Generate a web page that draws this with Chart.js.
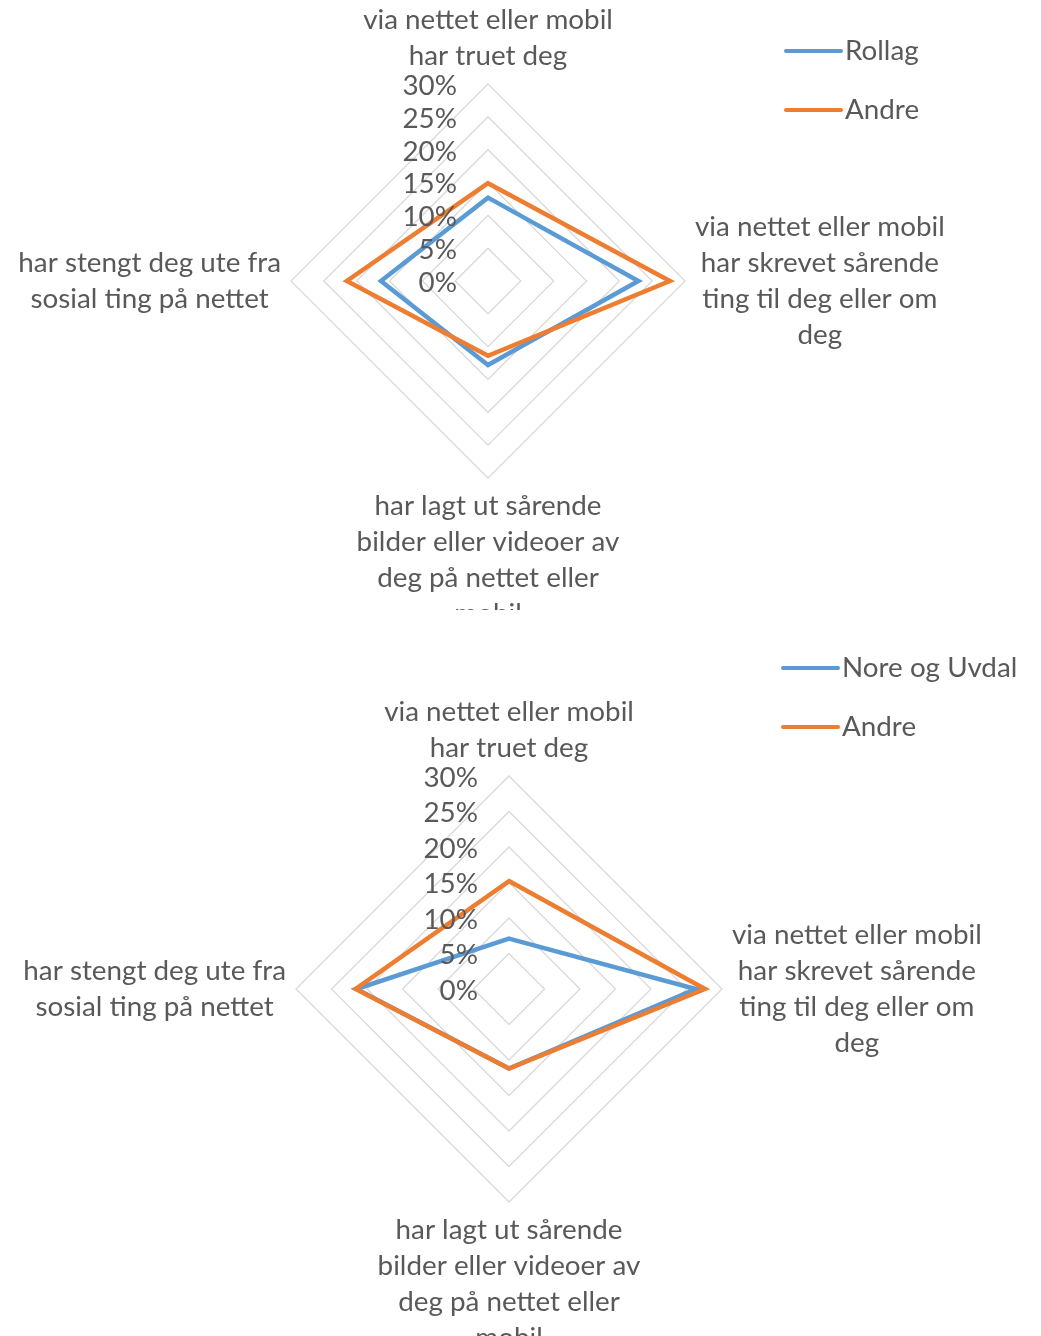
<!DOCTYPE html>
<html>
<head>
<meta charset="utf-8">
<script src="https://cdn.jsdelivr.net/npm/chart.js@4.4.1/dist/chart.umd.min.js"></script>
<style>
  html, body { margin: 0; padding: 0; background: #fff; }
  canvas { display: block; }
</style>
</head>
<body>
<canvas id="rollag" width="1041" height="610"></canvas>
<canvas id="nore" width="1041" height="726"></canvas>
<script>
// Axis categories (line breaks as in the original)
const categories = [
  ["via nettet eller mobil", "har truet deg"],
  ["via nettet eller mobil", "har skrevet sårende", "ting til deg eller om", "deg"],
  ["har lagt ut sårende", "bilder eller videoer av", "deg på nettet eller", "mobil"],
  ["har stengt deg ute fra", "sosial ting på nettet"]
];
const tickValues = [0, 5, 10, 15, 20, 25, 30];

// Values in percent
const rollag = [12.7, 22.9, 12.8, 16.3];
const andreRollag = [14.9, 27.7, 11.4, 21.5];
const noreUvdal = [7.1, 26.3, 11.2, 21.5];
const andreNore = [15.2, 27.6, 11.2, 21.6];

const BLUE = "#5B9BD5";
const ORANGE = "#ED7D31";
const TEXT = "#595959";
const FONT = "27.8px Lato, 'Liberation Sans', sans-serif";
const LINE_H = 36;

// Ticks, category labels and legend drawn Excel-style
const excelText = {
  id: 'excelText',
  afterDraw(chart, args, opts) {
    const ctx = chart.ctx;
    const r = chart.scales.r;
    ctx.save();
    ctx.font = FONT;
    ctx.fillStyle = TEXT;

    // tick labels, to the left of the first axis
    ctx.textAlign = 'right';
    ctx.textBaseline = 'middle';
    r.ticks.forEach(t => {
      const d = r.getDistanceFromCenterForValue(t.value);
      ctx.fillText(t.value + '%', r.xCenter - 31, r.yCenter - d + 2);
    });

    // category labels
    ctx.textAlign = 'center';
    chart.data.labels.forEach((lines, i) => {
      const p = r.getPointPosition(i, r.drawingArea + 10);
      const w = Math.max(...lines.map(s => ctx.measureText(s).width));
      const h = lines.length * LINE_H;
      const dx = p.x - r.xCenter, dy = p.y - r.yCenter;
      let cx = p.x, top = p.y - h / 2;
      if (dx > 1) cx = p.x + w / 2;
      else if (dx < -1) cx = p.x - w / 2;
      else top = dy < 0 ? p.y - h : p.y;
      lines.forEach((s, k) => ctx.fillText(s, cx, top + LINE_H * (k + 0.5)));
    });

    // legend
    ctx.textAlign = 'left';
    ctx.lineWidth = 4;
    ctx.lineCap = 'round';
    chart.data.datasets.forEach((ds, i) => {
      const y = opts.y + i * opts.gap;
      ctx.strokeStyle = ds.borderColor;
      ctx.beginPath();
      ctx.moveTo(opts.x, y);
      ctx.lineTo(opts.x + 55, y);
      ctx.stroke();
      ctx.fillText(ds.label, opts.x + 59, y);
    });
    ctx.restore();
  }
};

function radar(id, name, own, others, padding, legendPos) {
  new Chart(document.getElementById(id), {
    type: 'radar',
    data: {
      labels: categories,
      datasets: [{
        label: name,
        data: own,
        borderColor: BLUE,
        borderWidth: 4.5,
        pointRadius: 0,
        fill: false,
        order: 1
      }, {
        label: "Andre",
        data: others,
        borderColor: ORANGE,
        borderWidth: 4.5,
        pointRadius: 0,
        fill: false,
        order: 0
      }]
    },
    options: {
      responsive: false,
      animation: false,
      events: [],
      layout: { padding: padding },
      scales: {
        r: {
          min: 0,
          max: 30,
          afterBuildTicks: s => { s.ticks = tickValues.map(v => ({ value: v })); },
          ticks: { display: false },
          pointLabels: { display: false },
          angleLines: { display: false },
          grid: { color: "#D9D9D9", lineWidth: 1.3 }
        }
      },
      plugins: {
        legend: { display: false },
        tooltip: { enabled: false },
        excelText: legendPos
      }
    },
    plugins: [excelText]
  });
}

radar("rollag", "Rollag", rollag, andreRollag,
  { left: 291, top: 84, right: 356, bottom: 132 }, { x: 786, y: 51, gap: 59 });
radar("nore", "Nore og Uvdal", noreUvdal, andreNore,
  { left: 296, top: 166, right: 319, bottom: 134 }, { x: 783, y: 58, gap: 59 });
</script>
</body>
</html>
